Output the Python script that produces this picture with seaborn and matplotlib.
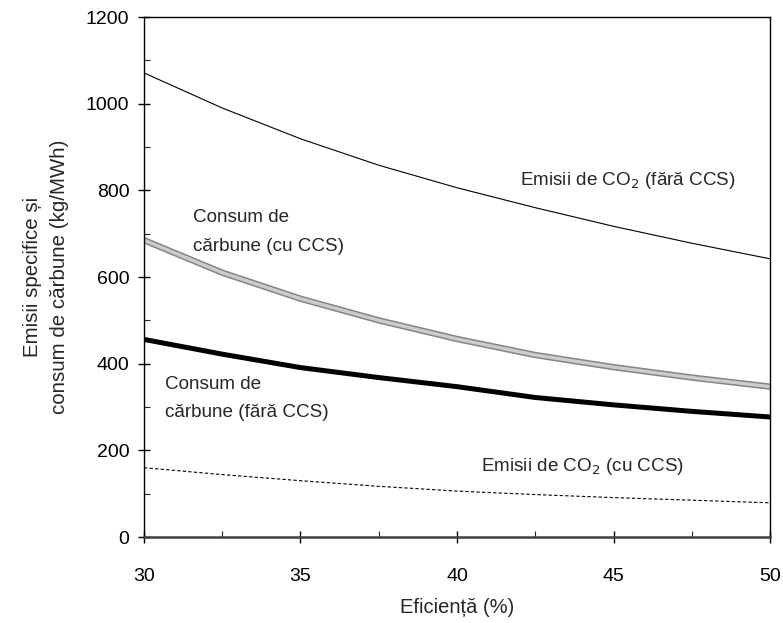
import matplotlib
matplotlib.use("Agg")
import matplotlib.pyplot as plt
import matplotlib.patheffects as pe
from matplotlib.ticker import MultipleLocator
import seaborn as sns
import pandas as pd

eficienta = [30, 32.5, 35, 37.5, 40, 42.5, 45, 47.5, 50]
co2_fara_ccs = [1071, 990, 919, 858, 806, 760, 717, 678, 642]
carbune_cu_ccs = [685, 610, 550, 500, 457, 420, 392, 368, 347]
carbune_fara_ccs = [456, 422, 391, 368, 347, 322, 305, 290, 277]
co2_cu_ccs = [160, 144, 130, 117, 106, 98, 91, 85, 79]

sns.set_style("white")
plt.rcParams['font.family'] = ['Liberation Sans', 'DejaVu Sans']

df = pd.DataFrame({
    "x": eficienta,
    "co2_fara": co2_fara_ccs,
    "carb_cu": carbune_cu_ccs,
    "carb_fara": carbune_fara_ccs,
    "co2_cu": co2_cu_ccs,
})

fig = plt.figure(figsize=(7.83, 6.23), dpi=100)
ax = fig.add_axes([0.1839, 0.138, 0.7995, 0.8347])

sns.lineplot(data=df, x="x", y="co2_fara", ax=ax, color="black", linewidth=0.8)
sns.lineplot(data=df, x="x", y="carb_cu", ax=ax, color="#cccccc", linewidth=2.4,
             path_effects=[pe.Stroke(linewidth=4.6, foreground="#858585"), pe.Normal()])
sns.lineplot(data=df, x="x", y="carb_fara", ax=ax, color="black", linewidth=3.6)
sns.lineplot(data=df, x="x", y="co2_cu", ax=ax, color="black", linewidth=0.8,
             linestyle=(0, (3, 2)))

ax.set_xlim(30, 50)
ax.set_ylim(0, 1200)
ax.xaxis.set_major_locator(MultipleLocator(5))
ax.xaxis.set_minor_locator(MultipleLocator(2.5))
ax.yaxis.set_major_locator(MultipleLocator(200))
ax.yaxis.set_minor_locator(MultipleLocator(100))
ax.tick_params(which="major", direction="inout", length=9, width=1, labelsize=14, pad=6, colors="black")
ax.tick_params(which="minor", direction="in", length=4, width=0.8)
ax.tick_params(axis="x", which="major", pad=18)
ax.tick_params(axis="both", which="both", bottom=True, left=True, top=False, right=False)

for s in ["left", "top", "right"]:
    ax.spines[s].set_color("black")
    ax.spines[s].set_linewidth(1.0)
ax.spines["bottom"].set_color("#404040")
ax.spines["bottom"].set_linewidth(1.8)

ax.set_xlabel("Eficiență (%)", fontsize=14.5, labelpad=9)
ax.set_ylabel("Emisii specifice și\nconsum de cărbune (kg/MWh)", fontsize=14.8, labelpad=12,
              linespacing=1.55)

fs = 13.6
ax.text(42.0, 822, "Emisii de CO$_2$ (fără CCS)", fontsize=fs, va="center", ha="left")
ax.text(31.57, 704, "Consum de\ncărbune (cu CCS)", fontsize=fs, va="center", ha="left", linespacing=1.9)
ax.text(30.67, 320, "Consum de\ncărbune (fără CCS)", fontsize=fs, va="center", ha="left", linespacing=1.9)
ax.text(40.77, 162, "Emisii de CO$_2$ (cu CCS)", fontsize=fs, va="center", ha="left")

fig.savefig("out.png", dpi=100)
